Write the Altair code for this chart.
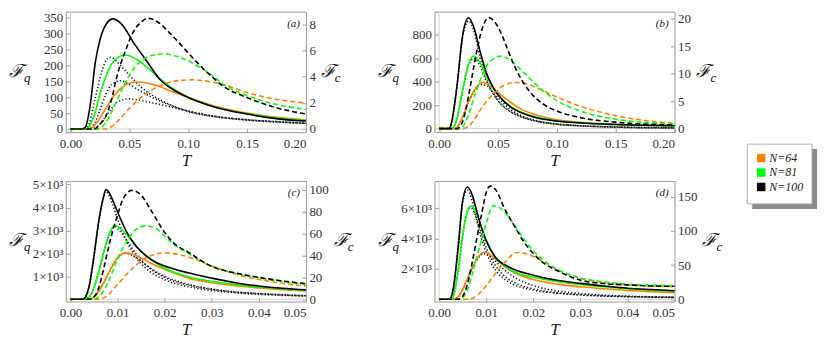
import altair as alt
import pandas as pd

SERIES = ["N=64", "N=81", "N=100"]
COLORS = ["#ff8000", "#00ff00", "#000000"]

# ---------------- panel (a) ----------------
A_FQ = {
    "N=64": [(0, 0), (0.016, 0), (0.018, 3), (0.025, 35), (0.03, 65), (0.035, 95), (0.04, 118), (0.045, 135),
             (0.05, 144), (0.058, 148), (0.065, 145), (0.075, 135), (0.085, 120), (0.10, 100), (0.12, 75),
             (0.15, 50), (0.18, 35), (0.20, 28)],
    "N=81": [(0, 0), (0.013, 0), (0.015, 5), (0.02, 40), (0.025, 110), (0.03, 165), (0.035, 205), (0.04, 225),
             (0.047, 233), (0.055, 222), (0.065, 195), (0.075, 162), (0.085, 133), (0.10, 100), (0.12, 72),
             (0.15, 48), (0.18, 33), (0.20, 27)],
    "N=100": [(0, 0), (0.01, 0), (0.0125, 5), (0.0167, 73), (0.021, 208), (0.025, 280), (0.029, 322),
              (0.036, 347), (0.043, 332), (0.054, 270), (0.065, 213), (0.076, 156), (0.09, 118), (0.10, 99),
              (0.12, 72), (0.15, 47), (0.178, 31), (0.20, 25)],
}
A_FC = {
    "N=64": [(0, 0), (0.03, 0), (0.035, 0.2), (0.04, 0.6), (0.05, 1.57), (0.06, 2.42), (0.07, 3.02), (0.08, 3.45),
             (0.09, 3.67), (0.105, 3.75), (0.12, 3.58), (0.13, 3.38), (0.15, 2.78), (0.17, 2.34), (0.20, 1.98)],
    "N=81": [(0, 0), (0.022, 0), (0.03, 0.48), (0.035, 1.33), (0.04, 2.3), (0.045, 3.26), (0.05, 4.1), (0.06, 5.2),
             (0.07, 5.63), (0.08, 5.72), (0.09, 5.55), (0.10, 5.2), (0.11, 4.7), (0.12, 4.1), (0.13, 3.4),
             (0.15, 2.55), (0.17, 1.98), (0.20, 1.5)],
    "N=100": [(0, 0), (0.02, 0), (0.025, 0.36), (0.03, 0.97), (0.035, 2.3), (0.04, 4.2), (0.046, 5.8), (0.054, 7.5),
              (0.06, 8.15), (0.066, 8.45), (0.075, 8.1), (0.085, 7.25), (0.095, 6.3), (0.10, 5.8), (0.11, 4.85),
              (0.12, 4.0), (0.13, 3.25), (0.15, 2.4), (0.17, 1.75), (0.185, 1.4), (0.20, 1.15)],
}
A_DOT = {
    "d100": [(0, 0), (0.01, 0), (0.015, 10), (0.02, 80), (0.025, 160), (0.03, 215), (0.033, 226), (0.037, 222),
             (0.04, 210), (0.05, 170), (0.06, 132), (0.07, 105), (0.08, 85), (0.10, 55), (0.12, 40), (0.15, 28),
             (0.18, 21), (0.20, 18)],
    "d81": [(0, 0), (0.014, 0), (0.02, 15), (0.025, 60), (0.03, 110), (0.035, 140), (0.043, 152), (0.05, 140),
            (0.06, 118), (0.07, 98), (0.08, 82), (0.10, 56), (0.12, 41), (0.15, 29), (0.18, 22), (0.20, 18)],
    "d64": [(0, 0), (0.018, 0), (0.025, 15), (0.03, 40), (0.035, 65), (0.04, 85), (0.05, 95), (0.055, 93),
            (0.065, 86), (0.08, 74), (0.10, 57), (0.12, 42), (0.15, 29), (0.18, 22), (0.20, 18)],
}

# ---------------- panel (b) ----------------
B_FQ = {
    "N=64": [(0, 0), (0.013, 0), (0.015, 10), (0.02, 100), (0.025, 230), (0.03, 330), (0.037, 395), (0.045, 350),
             (0.05, 310), (0.06, 230), (0.07, 165), (0.08, 125), (0.10, 75), (0.12, 55), (0.15, 38), (0.20, 27)],
    "N=81": [(0, 0), (0.011, 0), (0.015, 80), (0.02, 330), (0.025, 550), (0.029, 620), (0.035, 560), (0.04, 450),
             (0.045, 360), (0.05, 290), (0.06, 195), (0.07, 140), (0.08, 105), (0.10, 68), (0.12, 50),
             (0.15, 36), (0.20, 26)],
    "N=100": [(0, 0), (0.008, 0), (0.01, 30), (0.015, 350), (0.02, 800), (0.025, 948), (0.03, 850), (0.035, 650),
              (0.04, 480), (0.045, 370), (0.05, 290), (0.06, 190), (0.07, 135), (0.08, 100), (0.10, 65),
              (0.12, 48), (0.15, 35), (0.20, 25)],
}
B_FC = {
    "N=64": [(0, 0), (0.02, 0), (0.025, 0.43), (0.03, 1.7), (0.035, 3.4), (0.04, 4.9), (0.05, 7.0), (0.055, 7.9),
             (0.065, 8.4), (0.075, 8.1), (0.085, 7.2), (0.10, 5.75), (0.12, 4.05), (0.15, 2.35), (0.17, 1.6),
             (0.20, 0.95)],
    "N=81": [(0, 0), (0.018, 0), (0.025, 2.55), (0.03, 5.95), (0.035, 8.9), (0.04, 11.3), (0.045, 12.55),
             (0.052, 13.2), (0.06, 12.55), (0.07, 10.6), (0.08, 8.5), (0.09, 6.6), (0.10, 5.1), (0.12, 3.2),
             (0.15, 1.7), (0.20, 0.85)],
    "N=100": [(0, 0), (0.015, 0), (0.02, 1.3), (0.025, 6.0), (0.03, 11.9), (0.035, 17.0), (0.042, 20.2),
              (0.05, 18.5), (0.055, 16.2), (0.06, 13.4), (0.07, 8.9), (0.08, 6.0), (0.09, 4.25), (0.10, 3.2),
              (0.12, 2.0), (0.15, 1.17), (0.20, 0.64)],
}
B_DOT = {
    "d100": [(0, 0), (0.008, 0), (0.01, 30), (0.015, 350), (0.02, 790), (0.025, 920), (0.03, 820), (0.035, 600),
             (0.04, 430), (0.05, 240), (0.06, 150), (0.07, 100), (0.08, 70), (0.10, 38), (0.12, 24), (0.15, 13),
             (0.20, 6)],
    "d81": [(0, 0), (0.011, 0), (0.015, 80), (0.02, 330), (0.025, 540), (0.03, 600), (0.035, 530), (0.04, 410),
            (0.05, 240), (0.06, 150), (0.07, 100), (0.08, 70), (0.10, 38), (0.12, 24), (0.15, 13), (0.20, 6)],
    "d64": [(0, 0), (0.013, 0), (0.015, 10), (0.02, 100), (0.025, 225), (0.03, 320), (0.035, 375), (0.04, 370),
            (0.045, 320), (0.05, 265), (0.06, 170), (0.07, 110), (0.08, 75), (0.10, 40), (0.12, 25), (0.15, 14),
            (0.20, 7)],
}

# ---------------- panel (c) ----------------
C_FQ = {
    "N=64": [(0, 0), (0.004, 0), (0.005, 100), (0.006, 350), (0.007, 700), (0.008, 1100), (0.009, 1500),
             (0.01, 1820), (0.0117, 2020), (0.013, 1980), (0.015, 1800), (0.017, 1580), (0.02, 1300),
             (0.025, 920), (0.03, 720), (0.035, 590), (0.04, 490), (0.045, 420), (0.05, 360)],
    "N=81": [(0, 0), (0.003, 0), (0.004, 100), (0.005, 500), (0.006, 1200), (0.007, 2000), (0.008, 2700),
             (0.009, 3150), (0.0095, 3200), (0.01, 3170), (0.012, 2800), (0.014, 2300), (0.016, 1900),
             (0.018, 1600), (0.02, 1350), (0.025, 980), (0.03, 780), (0.035, 640), (0.04, 530), (0.045, 450),
             (0.05, 390)],
    "N=100": [(0, 0), (0.0025, 0), (0.003, 50), (0.004, 600), (0.005, 1900), (0.006, 3400), (0.007, 4450),
              (0.0075, 4780), (0.008, 4700), (0.009, 4300), (0.01, 3800), (0.012, 2900), (0.014, 2300),
              (0.016, 1900), (0.018, 1620), (0.02, 1450), (0.025, 1150), (0.03, 920), (0.035, 720),
              (0.04, 580), (0.045, 480), (0.05, 410)],
}
C_FC = {
    "N=64": [(0, 0), (0.006, 0), (0.007, 1.0), (0.008, 4.2), (0.01, 13.6), (0.012, 23), (0.014, 31.4),
             (0.016, 37.7), (0.018, 41), (0.02, 42.3), (0.022, 41.4), (0.025, 38.7), (0.03, 30.3), (0.035, 23),
             (0.04, 18), (0.045, 14.6), (0.05, 12.1)],
    "N=81": [(0, 0), (0.005, 0), (0.006, 2.1), (0.007, 7.3), (0.008, 15.7), (0.009, 26), (0.01, 36.6),
             (0.012, 53), (0.014, 64), (0.016, 67), (0.018, 65), (0.02, 57.5), (0.022, 50), (0.025, 42),
             (0.03, 30), (0.035, 24), (0.04, 19.5), (0.045, 16.3), (0.05, 13.6)],
    "N=100": [(0, 0), (0.004, 0), (0.005, 2.1), (0.006, 10.5), (0.007, 27), (0.008, 46), (0.009, 63), (0.01, 77),
              (0.011, 90), (0.013, 99.4), (0.015, 95), (0.017, 82), (0.02, 61), (0.022, 51), (0.025, 43),
              (0.03, 30), (0.035, 24), (0.04, 20), (0.045, 16.7), (0.05, 14.2)],
}
C_DOT = {
    "d100": [(0, 0), (0.0025, 0), (0.003, 50), (0.004, 600), (0.005, 1900), (0.006, 3350), (0.007, 4400),
             (0.0075, 4700), (0.008, 4600), (0.009, 4100), (0.01, 3500), (0.012, 2500), (0.014, 1800),
             (0.016, 1350), (0.02, 850), (0.025, 550), (0.03, 380), (0.035, 280), (0.04, 210), (0.045, 170),
             (0.05, 140)],
    "d81": [(0, 0), (0.003, 0), (0.004, 100), (0.005, 500), (0.006, 1200), (0.007, 2000), (0.008, 2700),
            (0.009, 3100), (0.0095, 3150), (0.01, 3080), (0.012, 2550), (0.014, 1950), (0.016, 1500),
            (0.02, 950), (0.025, 620), (0.03, 430), (0.035, 310), (0.04, 240), (0.045, 190), (0.05, 150)],
    "d64": [(0, 0), (0.004, 0), (0.005, 100), (0.006, 350), (0.007, 700), (0.008, 1100), (0.009, 1500),
            (0.01, 1800), (0.0117, 1990), (0.013, 1920), (0.015, 1650), (0.017, 1350), (0.02, 1000),
            (0.025, 650), (0.03, 450), (0.035, 320), (0.04, 250), (0.045, 195), (0.05, 155)],
}

# ---------------- panel (d) ----------------
D_FQ = {
    "N=64": [(0, 0), (0.003, 0), (0.004, 150), (0.005, 650), (0.006, 1350), (0.007, 2050), (0.008, 2650),
             (0.009, 3020), (0.0095, 3100), (0.01, 3080), (0.011, 2900), (0.012, 2650), (0.014, 2150),
             (0.016, 1750), (0.02, 1300), (0.025, 1000), (0.03, 820), (0.035, 690), (0.04, 580), (0.045, 500),
             (0.05, 440)],
    "N=81": [(0, 0), (0.0025, 0), (0.003, 200), (0.004, 1800), (0.005, 4200), (0.006, 5800), (0.0067, 6150),
             (0.0075, 5900), (0.0085, 5200), (0.01, 3900), (0.012, 2750), (0.014, 2150), (0.016, 1800),
             (0.02, 1450), (0.025, 1180), (0.03, 980), (0.035, 830), (0.04, 690), (0.045, 600), (0.05, 520)],
    "N=100": [(0, 0), (0.002, 0), (0.0025, 100), (0.003, 700), (0.004, 3300), (0.005, 6500), (0.006, 7400),
              (0.007, 6900), (0.008, 5800), (0.009, 4700), (0.01, 3850), (0.012, 2750), (0.0148, 2130),
              (0.02, 1590), (0.025, 1250), (0.03, 1050), (0.035, 880), (0.04, 730), (0.045, 640), (0.05, 560)],
}
D_FC = {
    "N=64": [(0, 0), (0.006, 0), (0.007, 1.1), (0.008, 5.5), (0.01, 20), (0.012, 38), (0.014, 54),
             (0.0165, 68.5), (0.019, 65.5), (0.022, 55.5), (0.025, 44), (0.03, 31), (0.035, 24.5), (0.04, 21),
             (0.045, 19.3), (0.05, 18.5)],
    "N=81": [(0, 0), (0.0045, 0), (0.005, 2.2), (0.006, 13), (0.007, 36), (0.008, 62), (0.009, 87), (0.01, 111),
             (0.0115, 137), (0.013, 133), (0.015, 118), (0.017, 98), (0.02, 71), (0.022, 58), (0.025, 44),
             (0.03, 31), (0.035, 25.5), (0.04, 22), (0.045, 20.7), (0.05, 20)],
    "N=100": [(0, 0), (0.004, 0), (0.005, 4.4), (0.006, 22), (0.007, 53), (0.008, 89), (0.009, 124), (0.01, 156),
              (0.0105, 164), (0.011, 165.5), (0.012, 160), (0.014, 131), (0.016, 107), (0.018, 84), (0.02, 67),
              (0.022, 54), (0.025, 42), (0.03, 28), (0.035, 23), (0.04, 21), (0.045, 19.5), (0.05, 19)],
}
D_DOT = {
    "d100": [(0, 0), (0.002, 0), (0.0025, 100), (0.003, 700), (0.004, 3300), (0.005, 6400), (0.006, 7200),
             (0.007, 6500), (0.008, 5200), (0.009, 4000), (0.01, 3100), (0.012, 1900), (0.014, 1300),
             (0.016, 950), (0.02, 600), (0.025, 400), (0.03, 280), (0.035, 210), (0.04, 170), (0.045, 140),
             (0.05, 120)],
    "d81": [(0, 0), (0.0025, 0), (0.003, 200), (0.004, 1800), (0.005, 4200), (0.006, 5800), (0.0067, 6050),
            (0.0075, 5700), (0.0085, 4800), (0.01, 3400), (0.012, 2200), (0.014, 1500), (0.016, 1100),
            (0.02, 680), (0.025, 430), (0.03, 300), (0.035, 220), (0.04, 175), (0.045, 145), (0.05, 125)],
    "d64": [(0, 0), (0.003, 0), (0.004, 150), (0.005, 650), (0.006, 1350), (0.007, 2050), (0.008, 2600),
            (0.009, 2950), (0.0095, 3020), (0.01, 2990), (0.011, 2780), (0.012, 2500), (0.014, 1900),
            (0.016, 1450), (0.02, 900), (0.025, 560), (0.03, 380), (0.035, 270), (0.04, 205), (0.045, 165),
            (0.05, 135)],
}

# tick values
A_XTICKS = [0.0, 0.05, 0.10, 0.15, 0.20]
C_XTICKS = [0.0, 0.01, 0.02, 0.03, 0.04, 0.05]
A_YTICKS = [0, 50, 100, 150, 200, 250, 300, 350]
B_YTICKS = [0, 200, 400, 600, 800]
C_YTICKS = [1000, 2000, 3000, 4000, 5000]
D_YTICKS = [2000, 4000, 6000]
A_Y2TICKS = [0, 2, 4, 6, 8]
B_Y2TICKS = [0, 5, 10, 15, 20]
C_Y2TICKS = [0, 20, 40, 60, 80, 100]
D_Y2TICKS = [0, 50, 100, 150]

W, H = 241, 121
SERIF = "Liberation Serif"
FRAME = "#999999"


def to_df(d, key):
    return pd.DataFrame([{"T": t, "v": v, key: k} for k, pts in d.items() for t, v in pts])


def sym(text, x, y, size, align="left"):
    return alt.Chart(pd.DataFrame({"s": [text]})).mark_text(
        font=SERIF, fontSize=size, fontStyle="italic", align=align, color="#111").encode(
        text="s:N", x=alt.value(x), y=alt.value(y))


def color_enc():
    return alt.Color("N:N", scale=alt.Scale(domain=SERIES, range=COLORS), legend=None)


def legend_layer():
    # key box placed to the right of panel (b), below its frame
    one = pd.DataFrame({"k": [0]})
    bx0, bx1, by0, by1 = W + 73, W + 138, H + 12, H + 72
    shadow = alt.Chart(one).mark_rect(color="#8a8a8a").encode(
        x=alt.value(bx0 + 5), x2=alt.value(bx1 + 5), y=alt.value(by0 + 5), y2=alt.value(by1 + 5))
    box = alt.Chart(one).mark_rect(fill="white", stroke="#b0b0b0", strokeWidth=1).encode(
        x=alt.value(bx0), x2=alt.value(bx1), y=alt.value(by0), y2=alt.value(by1))
    keys = pd.DataFrame({"N": SERIES})
    ly = alt.Y("N:N", scale=alt.Scale(domain=SERIES, range=[H + 26, H + 55], padding=0), axis=None)
    squares = alt.Chart(keys).mark_square(size=72, opacity=1).encode(
        x=alt.value(bx0 + 14), y=ly, color=color_enc())
    labels = alt.Chart(keys).mark_text(font=SERIF, fontSize=12, fontStyle="italic", align="left",
                                       color="#222").encode(x=alt.value(bx0 + 22), y=ly, text="N:N")
    return alt.layer(shadow, box, squares, labels)


def panel(tag, fq, fc, dots, xdom, xticks, ydom, yticks, ylab, y2dom, y2ticks, c_off, with_legend=False):
    xenc = alt.X("T:Q", scale=alt.Scale(domain=xdom, nice=False, zero=False),
                 axis=alt.Axis(values=xticks, format=".2f", title="T", offset=-4, tickSize=4))
    if ylab:
        yaxis = alt.Axis(values=yticks, title=None, offset=-4, tickSize=4, labelExpr=ylab)
    else:
        yaxis = alt.Axis(values=yticks, title=None, offset=-4, tickSize=4)
    yenc = alt.Y("v:Q", scale=alt.Scale(domain=ydom, nice=False, zero=False), axis=yaxis)

    zero_x = alt.Chart(pd.DataFrame({"T": [0.0]})).mark_rule(color="#d0d0d0", strokeWidth=1).encode(x=xenc)
    zero_y = alt.Chart(pd.DataFrame({"v": [0.0]})).mark_rule(color="#d0d0d0", strokeWidth=1).encode(y=yenc)
    dotted = alt.Chart(to_df(dots, "D")).mark_line(color="#111", strokeWidth=1.6, strokeDash=[1.2, 2.2],
                                                     interpolate="monotone").encode(x=xenc, y=yenc, detail="D:N")
    solid = alt.Chart(to_df(fq, "N")).mark_line(strokeWidth=1.6, interpolate="monotone").encode(
        x=xenc, y=yenc, color=color_enc())
    left = alt.layer(zero_x, zero_y, dotted, solid,
                     sym("\u2131", -57, H / 2, 18), sym("q", -42, H / 2 + 6, 13),
                     sym(tag, W - 6, 12, 11, align="right"))

    y2enc = alt.Y("v:Q", scale=alt.Scale(domain=y2dom, nice=False, zero=False),
                  axis=alt.Axis(values=y2ticks, title=None, orient="right", offset=-4, tickSize=4))
    dashed = alt.Chart(to_df(fc, "N")).mark_line(strokeWidth=1.6, strokeDash=[5, 3],
                                                 interpolate="monotone").encode(x=xenc, y=y2enc, color=color_enc())
    right = alt.layer(dashed, sym("\u2131", W + c_off, H / 2, 18), sym("c", W + c_off + 14, H / 2 + 6, 13))
    parts = [left, right] + ([legend_layer()] if with_legend else [])
    return alt.layer(*parts).resolve_scale(y="independent").properties(width=W, height=H)


exp_lab = "datum.value/1000 + '\u00d710\u00b3'"
pa = panel("(a)", A_FQ, A_FC, A_DOT, [-0.004, 0.2], A_XTICKS, [-10, 370], A_YTICKS, None,
           [-0.24, 8.95], A_Y2TICKS, 15)
pb = panel("(b)", B_FQ, B_FC, B_DOT, [-0.004, 0.2], A_XTICKS, [-30, 1000], B_YTICKS, None,
           [-0.65, 21.3], B_Y2TICKS, 22, with_legend=True)
pc = panel("(c)", C_FQ, C_FC, C_DOT, [-0.001, 0.05], C_XTICKS, [-100, 5150], C_YTICKS, exp_lab,
           [-2.1, 108], C_Y2TICKS, 28)
pd_ = panel("(d)", D_FQ, D_FC, D_DOT, [-0.001, 0.05], C_XTICKS, [-150, 7800], D_YTICKS, exp_lab,
            [-3.3, 173], D_Y2TICKS, 28)

chart = alt.concat(pa, pb, pc, pd_, columns=2, bounds="flush",
                   spacing=alt.RowColnumber(row=49, column=129)).properties(
    padding={"left": 0, "top": 2, "right": 5, "bottom": 5}
).configure_view(
    stroke=FRAME, strokeWidth=1
).configure_axis(
    domain=False, grid=False, tickColor=FRAME, labelFont=SERIF, labelFontSize=13, labelColor="#333",
    titleFont=SERIF, titleFontSize=17, titleFontStyle="italic", titleFontWeight="normal", titleColor="#222",
    labelPadding=3
).configure_axisX(titlePadding=2, labelPadding=5)

chart.save("out.html", embed_options={"renderer": "svg", "actions": False})
